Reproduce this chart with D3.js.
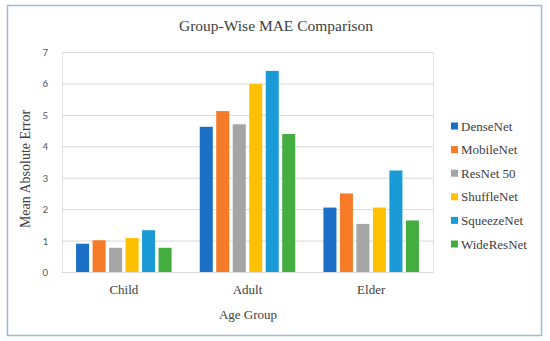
<!DOCTYPE html>
<meta charset="utf-8">
<style>
    body {
        margin: 0;
        background: #fff;
    }

    .grid line {
        stroke: #d9d9d9;
        stroke-width: 1px;
    }

    .tick text {
        font-family: Carlito, "Liberation Sans", Arial, sans-serif;
        font-size: 11px;
        fill: #595959;
    }

    .label {
        font-family: "Liberation Serif", "DejaVu Serif", serif;
        fill: #404040;
    }
</style>

<body>
    <script src="https://d3js.org/d3.v7.min.js"></script>
    <script>
        // Age groups on the x axis
        var groups = ["Child", "Adult", "Elder"];
        // Models, one bar each per group
        var models = ["DenseNet", "MobileNet", "ResNet 50", "ShuffleNet", "SqueezeNet", "WideResNet"];
        // MAE per model, in group order
        var denseNet = [0.90, 4.62, 2.05];
        var mobileNet = [1.01, 5.12, 2.50];
        var resNet50 = [0.77, 4.70, 1.53];
        var shuffleNet = [1.08, 5.98, 2.05];
        var squeezeNet = [1.33, 6.40, 3.23];
        var wideResNet = [0.77, 4.39, 1.64];
        var yTicks = [0, 1, 2, 3, 4, 5, 6, 7];

        var series = [denseNet, mobileNet, resNet50, shuffleNet, squeezeNet, wideResNet];
        var colors = ["#1b6fc6", "#f67b28", "#a5a5a5", "#ffc000", "#1b9ad8", "#44ad3f"];

        var width = 550,
            height = 341;
        var plot = { left: 62, right: 433, top: 52, bottom: 272 };

        var svg = d3.select("body").append("svg")
            .attr("width", width)
            .attr("height", height);

        // outer frame
        svg.append("rect")
            .attr("x", 7.5)
            .attr("y", 5.5)
            .attr("width", 534)
            .attr("height", 330)
            .attr("fill", "#fff")
            .attr("stroke", "#9fb8d4")
            .attr("stroke-width", 1.5);

        var x0 = d3.scaleBand()
            .domain(groups)
            .range([plot.left, plot.right]);

        var x1 = d3.scaleBand()
            .domain(models)
            .range([(x0.bandwidth() - 95.5) / 2, (x0.bandwidth() + 95.5) / 2])
            .paddingInner(0.21);

        var y = d3.scaleLinear()
            .domain([0, 7])
            .range([plot.bottom, plot.top]);

        // plot area border
        svg.append("rect")
            .attr("x", plot.left + 0.5)
            .attr("y", plot.top + 0.5)
            .attr("width", plot.right - plot.left)
            .attr("height", plot.bottom - plot.top)
            .attr("fill", "none")
            .attr("stroke", "#e3e3e3");

        // gridlines + tick labels
        var yAxis = svg.append("g")
            .attr("class", "grid")
            .attr("transform", "translate(" + plot.left + ",0)")
            .call(d3.axisLeft(y)
                .tickValues(yTicks)
                .tickFormat(d3.format("d"))
                .tickSize(-(plot.right - plot.left))
                .tickPadding(14));
        yAxis.select(".domain").remove();

        // bars
        svg.append("g")
            .selectAll("g")
            .data(series)
            .enter().append("g")
            .attr("fill", function (d, i) { return colors[i]; })
            .selectAll("rect")
            .data(function (d, i) {
                return d.map(function (v, j) { return { group: groups[j], model: models[i], value: v }; });
            })
            .enter().append("rect")
            .attr("x", function (d) { return x0(d.group) + x1(d.model); })
            .attr("y", function (d) { return y(d.value); })
            .attr("width", x1.bandwidth())
            .attr("height", function (d) { return y(0) - y(d.value); });

        // group labels
        svg.append("g")
            .selectAll("text")
            .data(groups)
            .enter().append("text")
            .attr("class", "label")
            .attr("x", function (d) { return x0(d) + x0.bandwidth() / 2; })
            .attr("y", 294)
            .attr("text-anchor", "middle")
            .attr("font-size", 13)
            .text(function (d) { return d; });

        // titles
        svg.append("text")
            .attr("class", "label")
            .attr("x", 276)
            .attr("y", 31)
            .attr("text-anchor", "middle")
            .attr("font-size", 15.5)
            .attr("fill", "#595959")
            .text("Group-Wise MAE Comparison");

        svg.append("text")
            .attr("class", "label")
            .attr("x", 248)
            .attr("y", 319)
            .attr("text-anchor", "middle")
            .attr("font-size", 13)
            .text("Age Group");

        svg.append("text")
            .attr("class", "label")
            .attr("transform", "translate(30,169) rotate(-90)")
            .attr("text-anchor", "middle")
            .attr("font-size", 14)
            .text("Mean Absolute Error");

        // legend
        var legend = svg.append("g")
            .selectAll("g")
            .data(models)
            .enter().append("g")
            .attr("transform", function (d, i) { return "translate(451," + (126 + i * 23.6) + ")"; });

        legend.append("rect")
            .attr("x", 0)
            .attr("y", -3.5)
            .attr("width", 7)
            .attr("height", 7)
            .attr("fill", function (d, i) { return colors[i]; });

        legend.append("text")
            .attr("class", "label")
            .attr("x", 10)
            .attr("y", 4.5)
            .attr("font-size", 13)
            .text(function (d) { return d; });
    </script>
</body>
